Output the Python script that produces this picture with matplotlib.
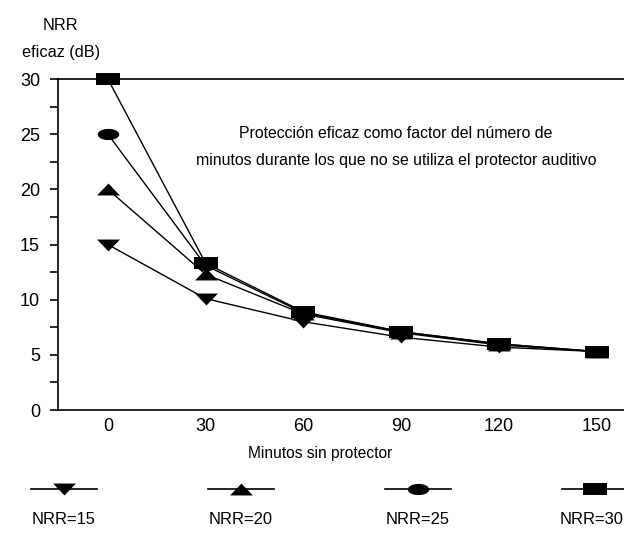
import numpy as np
import matplotlib.pyplot as plt
from matplotlib.path import Path
from matplotlib.ticker import MultipleLocator

# no condensed face available, so sizes are picked to match the text widths
plt.rcParams['font.family'] = ['Liberation Sans', 'DejaVu Sans']

minutes = ['0', '30', '60', '90', '120', '150']
nrr15 = [15, 10.1, 8.0, 6.6, 5.7, 5.3]
nrr20 = [20, 12.3, 8.7, 7.0, 5.9, 5.3]
nrr25 = [25, 13.1, 8.8, 7.1, 6.0, 5.3]
nrr30 = [30, 13.3, 8.9, 7.1, 6.0, 5.3]
labels = ['NRR=15', 'NRR=20', 'NRR=25', 'NRR=30']

# wide flat markers like the original
tri_down = Path([(-1, 0.52), (1, 0.52), (0, -0.52), (-1, 0.52)], closed=True)
tri_up = Path([(-1, -0.52), (1, -0.52), (0, 0.52), (-1, -0.52)], closed=True)
t = np.linspace(0, 2 * np.pi, 40)
ellipse = Path(np.column_stack([np.cos(t), 0.52 * np.sin(t)]), closed=True)
rect = Path([(-1, -0.48), (1, -0.48), (1, 0.48), (-1, 0.48), (-1, -0.48)], closed=True)
markers = [tri_down, tri_up, ellipse, rect]
sizes = [16.5, 16.5, 15.5, 17.3]

fig = plt.figure(figsize=(6.24, 5.39), dpi=100)
ax = fig.add_axes([0.093, 0.2393, 0.907, 0.6141])

x = np.arange(len(minutes))
for ys, m, s in zip([nrr15, nrr20, nrr25, nrr30], markers, sizes):
    ax.plot(x, ys, color='black', lw=1.0, marker=m, markersize=s, mew=0,
            markerfacecolor='black', clip_on=False, zorder=3)

ax.set_xlim(-0.51, 5.28)
ax.set_ylim(0, 30)
ax.set_xticks(x)
ax.set_xticklabels(minutes)
ax.tick_params(axis='x', length=0, pad=6, labelsize=13)
ax.yaxis.set_major_locator(MultipleLocator(5))
ax.yaxis.set_minor_locator(MultipleLocator(2.5))
ax.tick_params(axis='y', which='both', length=6, width=1.2, pad=7,
               direction='out', labelsize=13)
for sp in ['left', 'bottom', 'top']:
    ax.spines[sp].set_linewidth(1.2)
ax.spines['right'].set_visible(False)

ax.set_xlabel('Minutos sin protector', fontsize=11.2)
ax.xaxis.set_label_coords(0.463, -0.108)

fig.text(60 / 624, 1 - 25 / 539, 'NRR', ha='center', va='center', fontsize=11.7)
fig.text(61 / 624, 1 - 52 / 539, 'eficaz (dB)', ha='center', va='center', fontsize=11.7)
ax.text(0.597, 0.795, 'Protección eficaz como factor del número de\n'
        'minutos durante los que no se utiliza el protector auditivo',
        transform=ax.transAxes, ha='center', va='center', fontsize=11.4,
        linespacing=1.95)

# legend row underneath: line+marker, label below
lax = fig.add_axes([0, 0, 1, 0.14])
lax.set_xlim(0, 624)
lax.set_ylim(0, 75.46)
lax.axis('off')
centers = [64, 241, 418, 595]
label_x = [64, 241, 418, 592]
for c, lx, m, s, lab in zip(centers, label_x, markers, sizes, labels):
    lax.plot([c - 33, c + 33], [50, 50], color='black', lw=1.2, clip_on=False)
    lax.plot([c], [50], marker=m, markersize=s, mew=0, color='black', clip_on=False)
    lax.text(lx, 20, lab, ha='center', va='center', fontsize=11.9)

fig.savefig('out.png', dpi=100)
